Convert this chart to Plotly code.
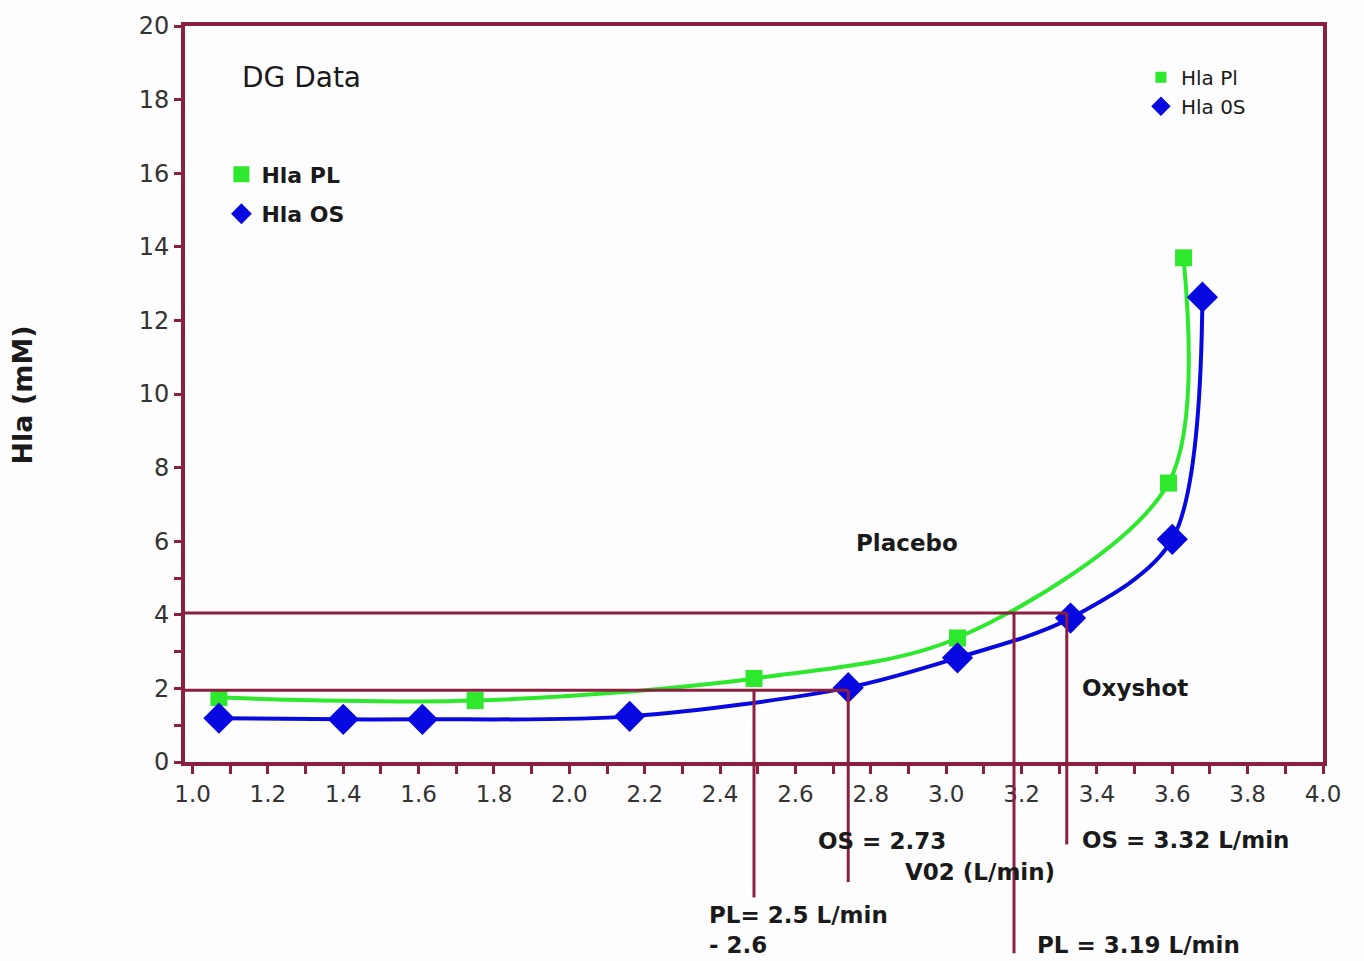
import plotly.graph_objects as go

# ---- data ----
pl_x = [1.07, 1.75, 2.49, 3.03, 3.59, 3.63]
pl_y = [1.75, 1.67, 2.27, 3.37, 7.58, 13.7]

os_x = [1.07, 1.40, 1.61, 2.16, 2.74, 3.03, 3.33, 3.60, 3.68]
os_y = [1.19, 1.16, 1.16, 1.24, 2.02, 2.83, 3.91, 6.05, 12.63]

# reference levels and cut-off VO2 values
level_low = 1.95
level_high = 4.05
pl_low_x = 2.49
os_low_x = 2.74
pl_high_x = 3.18
os_high_x = 3.32

x_tickvals = [1.0, 1.1, 1.2, 1.3, 1.4, 1.5, 1.6, 1.7, 1.8, 1.9, 2.0, 2.1, 2.2, 2.3, 2.4, 2.5,
              2.6, 2.7, 2.8, 2.9, 3.0, 3.1, 3.2, 3.3, 3.4, 3.5, 3.6, 3.7, 3.8, 3.9, 4.0]
x_ticktext = ["1.0", "", "1.2", "", "1.4", "", "1.6", "", "1.8", "", "2.0", "", "2.2", "", "2.4", "",
              "2.6", "", "2.8", "", "3.0", "", "3.2", "", "3.4", "", "3.6", "", "3.8", "", "4.0"]
y_tickvals = [0, 1, 2, 3, 4, 5, 6, 8, 10, 12, 14, 16, 18, 20]
y_ticktext = ["0", "", "2", "", "4", "", "6", "8", "10", "12", "14", "16", "18", "20"]

X_MIN, X_MAX = 0.98, 4.0
Y_MIN, Y_MAX = 0, 20

FRAME = "#8b1f3f"
GREEN = "#2ee82e"
BLUE = "#0808e0"
FONT = "DejaVu Sans, Arial, sans-serif"
TXT = "#1a1a1a"

fig = go.Figure()

# fitted curves (lines only)
fig.add_trace(go.Scatter(
    x=pl_x, y=pl_y, mode="lines", showlegend=False, hoverinfo="skip",
    line=dict(color=GREEN, width=4, shape="spline", smoothing=0.9)))
fig.add_trace(go.Scatter(
    x=os_x, y=os_y, mode="lines", showlegend=False, hoverinfo="skip",
    line=dict(color=BLUE, width=4, shape="spline", smoothing=0.9)))

# markers (main legend)
fig.add_trace(go.Scatter(
    x=pl_x, y=pl_y, name="<b>Hla PL</b>", mode="markers",
    marker=dict(symbol="square", size=17, color=GREEN),
    legend="legend", legendgroup="a"))
fig.add_trace(go.Scatter(
    x=os_x, y=os_y, name="<b>Hla OS</b>", mode="markers",
    marker=dict(symbol="diamond", size=24, color=BLUE),
    legend="legend", legendgroup="b"))

# second (small) legend
fig.add_trace(go.Scatter(x=[None], y=[None], name="Hla Pl", mode="markers",
                         marker=dict(symbol="square", size=11, color=GREEN),
                         legend="legend2", legendgroup="c"))
fig.add_trace(go.Scatter(x=[None], y=[None], name="Hla 0S", mode="markers",
                         marker=dict(symbol="diamond", size=15, color=BLUE),
                         legend="legend2", legendgroup="d"))

# reference lines
line_style = dict(color=FRAME, width=3)
fig.add_shape(type="line", xref="x", yref="y", x0=X_MIN, x1=os_high_x,
              y0=level_high, y1=level_high, line=line_style)
fig.add_shape(type="line", xref="x", yref="y", x0=X_MIN, x1=os_low_x,
              y0=level_low, y1=level_low, line=line_style)

def vline(xv, ytop, ybottom_paper):
    fig.add_shape(type="line", xref="x", yref="paper", x0=xv, x1=xv,
                  y0=(ytop - Y_MIN) / (Y_MAX - Y_MIN), y1=ybottom_paper, line=line_style)

vline(pl_low_x, level_low, -0.184)
vline(os_low_x, level_low, -0.163)
vline(pl_high_x, level_high, -0.26)
vline(os_high_x, level_high, -0.112)

def note(text, x, y, size=23, bold=True, xanchor="center", yanchor="middle", align="center"):
    fig.add_annotation(text=f"<b>{text}</b>" if bold else text, x=x, y=y,
                       xref="paper", yref="paper", showarrow=False,
                       xanchor=xanchor, yanchor=yanchor, align=align,
                       font=dict(size=size, color=TXT, family=FONT))

note("DG Data", 0.0483, 0.930, size=28, bold=False, xanchor="left")
note("Placebo", 0.6344, 0.2969)
note("Oxyshot", 0.8348, 0.0999)
note("OS = 2.73", 0.6125, -0.108)
note("V02 (L/min)", 0.6986, -0.1498)
note("OS = 3.32 L/min", 0.7865, -0.1066, xanchor="left")
note("PL= 2.5 L/min<br>- 2.6", 0.4587, -0.187, xanchor="left", yanchor="top", align="left")
note("PL = 3.19 L/min", 0.7469, -0.2483, xanchor="left")

fig.add_annotation(text="<b>Hla (mM)</b>", x=-0.1432, y=0.498, xref="paper", yref="paper",
                   showarrow=False, textangle=-90, xanchor="center", yanchor="middle",
                   font=dict(size=27, color=TXT, family=FONT))

fig.update_layout(
    width=1364, height=961,
    margin=dict(l=185, r=41, t=21, b=199),
    paper_bgcolor="#fdfdfd", plot_bgcolor="#fdfdfd",
    font=dict(family=FONT, color="#222222"),
    legend=dict(x=0.032, y=0.827, xanchor="left", yanchor="top",
                font=dict(size=22, color=TXT, family=FONT),
                bgcolor="rgba(0,0,0,0)", tracegroupgap=8, itemsizing="trace"),
    legend2=dict(x=0.84, y=0.957, xanchor="left", yanchor="top",
                 font=dict(size=20, color=TXT, family=FONT),
                 bgcolor="rgba(0,0,0,0)", tracegroupgap=0, itemsizing="trace"),
    showlegend=True,
)

fig.update_xaxes(range=[X_MIN, X_MAX], tickvals=x_tickvals, ticktext=x_ticktext,
                 showgrid=False, zeroline=False, showline=True, mirror=True,
                 linecolor=FRAME, linewidth=4, ticks="outside", ticklen=8, tickwidth=3,
                 tickcolor=FRAME, tickfont=dict(size=23, color="#333333", family=FONT))
fig.update_yaxes(range=[Y_MIN, Y_MAX], tickvals=y_tickvals, ticktext=y_ticktext,
                 showgrid=False, zeroline=False, showline=True, mirror=True,
                 linecolor=FRAME, linewidth=4, ticks="outside", ticklen=7, tickwidth=3,
                 tickcolor=FRAME, tickfont=dict(size=24, color="#333333", family=FONT))

fig.write_html("out.html")
